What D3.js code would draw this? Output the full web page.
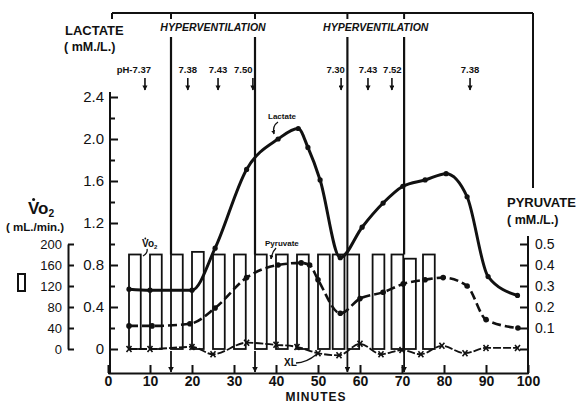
<!DOCTYPE html>
<html>
<head>
<meta charset="utf-8">
<script src="https://cdn.jsdelivr.net/npm/d3@7"></script>
<style>
body{margin:0;background:#fff;}
text{font-family:"Liberation Sans",Arial,sans-serif;fill:#111;}
</style>
</head>
<body>
<svg width="576" height="404"></svg>
<script>
//values (minutes after start)
let lacTime = [5,10,20,25.5,33,40.5,45.3,47.6,50.5,55.3,60.5,65.5,70.2,75.5,80.5,85.5,90.5,97.5];
let lacValue = [0.57,0.56,0.56,0.96,1.71,2.00,2.10,1.92,1.61,0.87,1.16,1.39,1.55,1.61,1.67,1.45,0.69,0.51];
let pyrTime = [5,10.5,19.5,25.5,33,40.5,46,48,50,55.3,60,65.5,70.3,75.5,79.8,85.5,90,97.6];
let pyrValue = [0.11,0.11,0.12,0.195,0.34,0.40,0.41,0.40,0.33,0.17,0.24,0.27,0.31,0.33,0.34,0.30,0.14,0.10];
let xlTime = [5,10,20,25,33,40,45,50,55,60,65,70,74.5,79.5,85,90,97.5];
let xlValue = [0,0,0.02,-0.05,0.06,0.04,0.02,-0.04,-0.06,0.05,-0.05,-0.01,-0.05,0.03,-0.04,0.01,0.01];
let vo2Start = [5,10,15,20,25,30,35,40,45,50,53.5,57,63,67.5,70.5,75];
let vo2Value = [180,180,180,185,180,180,180,180,180,180,180,180,180,180,172,180];
let hyperTime = [15,35,57,70.5];
let phTime = [8.8,19,26.2,34.5,55.5,61.9,67.6,86.2];
let phLabel = ["pH-7.37","7.38","7.43","7.50","7.30","7.43","7.52","7.38"];
let minuteTicks = [0,10,20,30,40,50,60,70,80,90,100];
let lacTicks = [0,0.4,0.8,1.2,1.6,2.0,2.4];
let lacMinor = [0.2,0.6,1.0,1.4,1.8,2.2];
let vo2Ticks = [0,40,80,120,160,200];
let pyrTicks = [0,0.1,0.2,0.3,0.4,0.5];

let svg = d3.select("svg");
let font = '"Liberation Sans",Arial,sans-serif';

//scales
let x = d3.scaleLinear().domain([0,100]).range([108,528]);
let yLac = d3.scaleLinear().domain([0,2.4]).range([349,97]);
let yVo2 = d3.scaleLinear().domain([0,200]).range([349,244]);
let yPyr = d3.scaleLinear().domain([0,0.5]).range([349,244]);
let barW = 2.8;

//arrow head, points along the line
svg.append("defs").append("marker")
    .attr("id","head").attr("viewBox","0 0 10 10")
    .attr("refX",9).attr("refY",5).attr("markerWidth",3.2).attr("markerHeight",3.2)
    .attr("markerUnits","strokeWidth").attr("orient","auto")
  .append("path").attr("d","M0,0 L10,5 L0,10 Z").attr("fill","#111");

//top frame with hyperventilation marks
svg.append("line").attr("x1",112).attr("x2",533).attr("y1",13).attr("y2",13)
    .attr("stroke","#111").attr("stroke-width",2);
svg.append("line").attr("x1",112).attr("x2",112).attr("y1",13).attr("y2",19)
    .attr("stroke","#111").attr("stroke-width",2);
svg.append("line").attr("x1",533).attr("x2",533).attr("y1",13).attr("y2",188)
    .attr("stroke","#111").attr("stroke-width",2);
svg.selectAll(".htick").data(hyperTime).enter().append("line")
    .attr("x1",d=>x(d)).attr("x2",d=>x(d)).attr("y1",13).attr("y2",19)
    .attr("stroke","#111").attr("stroke-width",2);
svg.selectAll(".hline").data(hyperTime).enter().append("line")
    .attr("x1",d=>x(d)).attr("x2",d=>x(d)).attr("y1",37).attr("y2",yVo2(180))
    .attr("stroke","#111").attr("stroke-width",2.2);
[[15,35],[57,70.5]].forEach(p=>{
  svg.append("text").attr("x",(x(p[0])+x(p[1]))/2).attr("y",31)
    .attr("text-anchor","middle").attr("font-size",10.5).attr("font-weight","bold")
    .attr("font-style","italic").text("HYPERVENTILATION");
});

//pH readings: labels right before a hyperventilation line end just short of it
function lineAfter(t){ return hyperTime.find(h=> h>t && h-t<3); }
svg.selectAll(".ph").data(phTime).enter().append("text")
    .attr("x",(d,i)=> lineAfter(d)!==undefined ? x(lineAfter(d))-2.5 : (i==0 ? x(d)+6 : x(d)))
    .attr("y",73).attr("text-anchor",(d,i)=> (i==0 || lineAfter(d)!==undefined) ? "end" : "middle")
    .attr("font-size",9.5).attr("font-weight","bold")
    .text((d,i)=>phLabel[i]);
svg.selectAll(".pharrow").data(phTime).enter().append("line")
    .attr("x1",d=>x(d)).attr("x2",d=>x(d)).attr("y1",78).attr("y2",90)
    .attr("stroke","#111").attr("stroke-width",1.6).attr("marker-end","url(#head)");

//VO2 bars
svg.selectAll(".bar").data(vo2Start).enter().append("rect")
    .attr("x",d=>x(d)).attr("width",x(barW)-x(0))
    .attr("y",(d,i)=>yVo2(vo2Value[i])).attr("height",(d,i)=>yVo2(0)-yVo2(vo2Value[i]))
    .attr("fill","none").attr("stroke","#111").attr("stroke-width",1.8);

//bottom arrows marking hyperventilation
svg.selectAll(".barrow").data(hyperTime).enter().append("line")
    .attr("x1",d=>x(d)).attr("x2",d=>x(d)).attr("y1",351).attr("y2",372)
    .attr("stroke","#111").attr("stroke-width",1.8).attr("marker-end","url(#head)");

//axes
let axX = svg.append("g").attr("transform","translate(0,373)")
    .call(d3.axisBottom(x).tickValues(minuteTicks).tickSize(-8).tickSizeOuter(0).tickPadding(3));
axX.selectAll("text").attr("font-size",14).attr("font-weight","bold").attr("font-family",font);

let axL = svg.append("g").attr("transform","translate(110,0)")
    .call(d3.axisLeft(yLac).tickValues(lacTicks).tickSize(-8).tickPadding(6)
      .tickFormat(d=> d==0 ? "0" : d.toFixed(1)));
axL.select(".domain").remove();
axL.selectAll("text").attr("font-size",15).attr("font-family",font);
let axLm = svg.append("g").attr("transform","translate(110,0)")
    .call(d3.axisLeft(yLac).tickValues(lacMinor).tickSize(-5).tickFormat(""));
axLm.select(".domain").remove();
svg.append("line").attr("x1",110).attr("x2",110).attr("y1",92).attr("y2",373)
    .attr("stroke","#111").attr("stroke-width",2);
svg.append("line").attr("x1",108).attr("x2",110).attr("y1",373).attr("y2",373)
    .attr("stroke","#111").attr("stroke-width",2);

let axV = svg.append("g").attr("transform","translate(68,0)")
    .call(d3.axisLeft(yVo2).tickValues(vo2Ticks).tickSize(-6).tickSizeOuter(0).tickPadding(6));
axV.selectAll("text").attr("font-size",13).attr("font-family",font);

let axP = svg.append("g").attr("transform","translate(528,0)")
    .call(d3.axisRight(yPyr).tickValues(pyrTicks).tickSize(-8).tickSizeOuter(0).tickPadding(7)
      .tickFormat(d=> d==0 ? "" : d.toFixed(1)));
axP.select(".domain").remove();
axP.selectAll("text").attr("font-size",14).attr("font-family",font);
svg.append("line").attr("x1",528).attr("x2",528).attr("y1",236).attr("y2",374)
    .attr("stroke","#111").attr("stroke-width",2);

svg.selectAll(".tick line").attr("stroke","#111").attr("stroke-width",2);
svg.selectAll(".domain").attr("stroke","#111").attr("stroke-width",2);

//series
let lacData = lacTime.map((t,i)=>[t,lacValue[i]]);
let pyrData = pyrTime.map((t,i)=>[t,pyrValue[i]]);
let xlData = xlTime.map((t,i)=>[t,xlValue[i]]);

svg.append("path").datum(xlData)
    .attr("d",d3.line().x(d=>x(d[0])).y(d=>yLac(d[1])).curve(d3.curveMonotoneX))
    .attr("fill","none").attr("stroke","#111").attr("stroke-width",1.8).attr("stroke-dasharray","8,2");
svg.selectAll(".xl").data(xlData).enter().append("path")
    .attr("d",d=>{ let cx=x(d[0]), cy=yLac(d[1]);
      return "M"+(cx-2.5)+","+(cy-3)+"L"+(cx+2.5)+","+(cy+3)+"M"+(cx+2.5)+","+(cy-3)+"L"+(cx-2.5)+","+(cy+3); })
    .attr("stroke","#111").attr("stroke-width",1.6);

svg.append("path").datum(pyrData)
    .attr("d",d3.line().x(d=>x(d[0])).y(d=>yPyr(d[1])).curve(d3.curveMonotoneX))
    .attr("fill","none").attr("stroke","#111").attr("stroke-width",2.6).attr("stroke-dasharray","9,4");
svg.selectAll(".pyr").data(pyrData).enter().append("circle")
    .attr("cx",d=>x(d[0])).attr("cy",d=>yPyr(d[1])).attr("r",2.8).attr("fill","#111");

svg.append("path").datum(lacData)
    .attr("d",d3.line().x(d=>x(d[0])).y(d=>yLac(d[1])).curve(d3.curveMonotoneX))
    .attr("fill","none").attr("stroke","#111").attr("stroke-width",3);
svg.selectAll(".lac").data(lacData).enter().append("circle")
    .attr("cx",d=>x(d[0])).attr("cy",d=>yLac(d[1])).attr("r",2.6).attr("fill","#111");

//in-plot labels
function leader(d){
  svg.append("path").attr("d",d).attr("fill","none").attr("stroke","#111")
     .attr("stroke-width",1.3).attr("marker-end","url(#head)");
}
svg.append("text").attr("x",268).attr("y",119).attr("font-size",8).attr("font-weight","bold").text("Lactate");
leader("M278,122 Q272,126 274,134");
svg.append("text").attr("x",265).attr("y",246).attr("font-size",8).attr("font-weight","bold").text("Pyruvate");
leader("M276,248 Q272,252 271,259");
svg.append("text").attr("x",284).attr("y",366).attr("font-size",10).attr("font-weight","bold").text("XL");
svg.append("path").attr("d","M296,363 Q306,363 317,354").attr("fill","none").attr("stroke","#111").attr("stroke-width",1.4);

function vo2Label(px,py,size){
  let t = svg.append("text").attr("x",px).attr("y",py).attr("font-size",size).attr("font-weight","bold");
  t.append("tspan").text("Vo");
  t.append("tspan").attr("font-size",size*0.6).attr("dy",size*0.2).text("2");
  svg.append("circle").attr("cx",px+size*0.33).attr("cy",py-size*0.85).attr("r",size*0.09).attr("fill","#111");
}
vo2Label(142,247,10);
svg.append("path").attr("d","M147,249 Q148,253 143,256").attr("fill","none").attr("stroke","#111").attr("stroke-width",1.3);

//axis titles
svg.append("text").attr("x",65).attr("y",35).attr("font-size",13).attr("font-weight","bold").text("LACTATE");
svg.append("text").attr("x",64).attr("y",51).attr("font-size",12.5).attr("font-weight","bold").text("( mM./L.)");
vo2Label(28,214,17);
svg.append("text").attr("x",6).attr("y",231).attr("font-size",11.5).attr("font-weight","bold").text("( mL./min.)");
svg.append("rect").attr("x",18).attr("y",274).attr("width",7).attr("height",17)
    .attr("fill","none").attr("stroke","#111").attr("stroke-width",2);
svg.append("text").attr("x",507).attr("y",207).attr("font-size",13).attr("font-weight","bold").text("PYRUVATE");
svg.append("text").attr("x",507).attr("y",224).attr("font-size",12.5).attr("font-weight","bold").text("( mM./L.)");
svg.append("text").attr("x",316).attr("y",401).attr("text-anchor","middle").attr("font-size",12)
    .attr("font-weight","bold").attr("letter-spacing",1).text("MINUTES");
</script>
</body>
</html>
